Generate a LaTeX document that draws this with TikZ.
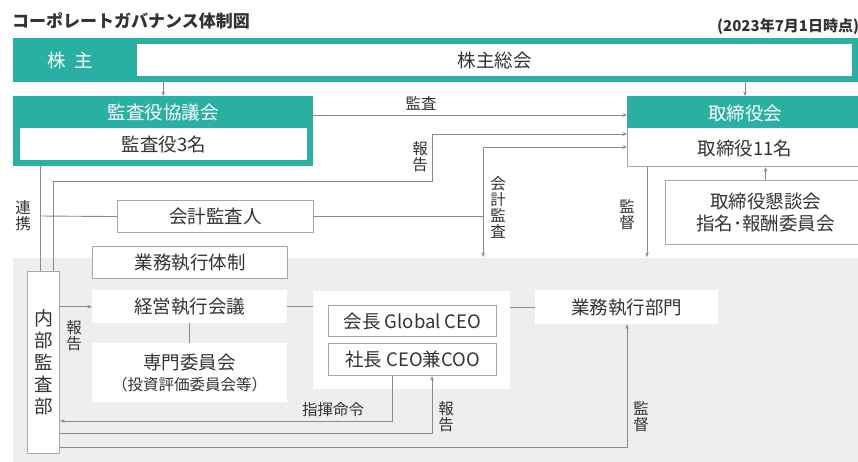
\documentclass[tikz,border=0pt]{standalone}
\usepackage{fontspec}
\setmainfont{Noto Sans CJK JP}
\usetikzlibrary{arrows.meta}
\definecolor{tealc}{HTML}{2AAFA3}
\definecolor{bgg}{HTML}{EEEEEE}
\definecolor{brd}{HTML}{A8A8A8}
\definecolor{lnc}{HTML}{8A8A8A}
\definecolor{txt}{HTML}{333333}
\newcommand\bigf{\fontsize{18.5}{22}\selectfont}
\newcommand\labf{\fontsize{15.5}{16}\selectfont}
\tikzset{
  plain/.style={inner sep=0pt, anchor=north west, text=txt, font=\bigf},
  box/.style={plain, draw=brd, line width=1.1pt, fill=white},
  wbox/.style={plain, fill=white},
  tbox/.style={plain, fill=tealc, text=white},
  ln/.style={draw=lnc, line width=0.9pt},
  arr/.style={ln, -{Stealth[length=4.5pt,width=3.6pt]}},
  lab/.style={inner sep=0pt, text=txt, font=\labf, align=center},
}
\begin{document}
\begin{tikzpicture}[x=1pt,y=-1pt]
\useasboundingbox (0,0) rectangle (858,461);
\fill[white] (0,0) rectangle (858,461);
\fill[bgg] (13,258) rectangle (860,463);

% title and date
\node[inner sep=0pt, anchor=west, text=txt, font=\fontsize{17}{18}\selectfont\bfseries] (title) at (12,21) {コーポレートガバナンス体制図};
\node[inner sep=0pt, anchor=west, text=txt, font=\fontsize{15}{16}\selectfont\bfseries] (date) at (717,27) {(2023年7月1日時点)};

% shareholders bar
\node[tbox, minimum width=850pt, minimum height=44pt] (bar) at (13,38) {};
\node[wbox, minimum width=715pt, minimum height=32pt] (soukai) at (137,44) {株主総会};
\node[inner sep=0pt, text=white, font=\bigf] (kabu) at (70,60) {株\hspace{0.45em}主};

% audit board
\node[tbox, minimum width=300pt, minimum height=70pt] (kansa) at (13,96) {};
\node[inner sep=0pt, text=white, font=\bigf] (kansahead) at (163,113) {監査役協議会};
\node[wbox, minimum width=287pt, minimum height=32pt] (kansa3) at (20,128) {監査役3名};

% board of directors
\node[box, minimum width=240pt, minimum height=70pt] (tori) at (627,96) {};
\node[tbox, minimum width=240pt, minimum height=32pt] (torihead) at (627,96) {};
\node[inner sep=0pt, text=white, font=\bigf] (toritxt) at (745,113) {取締役会};
\node[inner sep=0pt, text=txt, font=\bigf] (tori11) at (745,148) {取締役11名};

% round-table
\node[box, minimum width=200pt, minimum height=64pt, align=center] (kondan) at (665,180) {\fontsize{18.5}{27}\selectfont 取締役懇談会\\指名･報酬委員会};

% accounting auditor
\node[box, minimum width=196pt, minimum height=32pt] (kaikei) at (117,200) {会計監査人};

% execution
\node[box, minimum width=195pt, minimum height=32pt] (taisei) at (92,246) {業務執行体制};
\node[box, minimum width=32pt, minimum height=182pt, align=center] (naibu) at (27,271) {\fontsize{19}{18.6}\selectfont 内\\部\\監\\査\\部};
\node[wbox, minimum width=195pt, minimum height=33pt] (keiei) at (92,290) {経営執行会議};
\node[wbox, minimum width=195pt, minimum height=59pt, align=center] (senmon) at (92,343) {専門委員会\\[-1pt]{\fontsize{15.5}{18}\selectfont （投資評価委員会等）}};
\node[wbox, minimum width=197pt, minimum height=98pt] (ceobox) at (313,291) {};
\node[box, minimum width=168pt, minimum height=31pt] (kaicho) at (328,305) {会長 Global CEO};
\node[box, minimum width=168pt, minimum height=32pt] (shacho) at (328,343) {社長 CEO兼COO};
\node[wbox, minimum width=183pt, minimum height=34pt] (bumon) at (535,290) {業務執行部門};

% coordinates
\coordinate (k1) at (313,115);
\coordinate (r1) at (53,181);
\coordinate (r2) at (432,134);
\coordinate (l1) at (40,216);
\coordinate (a1) at (483,147);
\coordinate (a2) at (483,257);
\coordinate (s1) at (647,257);
\coordinate (m1) at (392,421);
\coordinate (h1) at (432,433);
\coordinate (g1) at (627,447);

% connectors
\draw[arr] (kansa.north |- bar.south) -- (kansa.north);
\draw[arr] (toritxt |- bar.south) -- (toritxt |- tori.north);
\draw[arr] (k1) -- (k1 -| tori.west);
\draw[arr] (naibu.north -| r1) -- (r1) -| (r2) -- (r2 -| tori.west);
\draw[ln] (kansa.south -| l1) -- (naibu.north -| l1);
\draw[ln] (l1) -- (kaikei.west);
\draw[ln] (kaikei.east) -- (kaikei.east -| a1);
\draw[arr] (a1) -- (a1 -| tori.west);
\draw[arr] (a1) -- (a2);
\draw[arr] (tori.south -| s1) -- (s1);
\draw[arr] (kondan.north) -- (kondan.north |- tori.south);
\draw[arr] (naibu.east |- keiei.west) -- (keiei.west);
\draw[ln] (keiei.south) -- (senmon.north);
\draw[ln] (keiei.east) -- (keiei.east -| ceobox.west);
\draw[ln] (ceobox.east |- bumon.west) -- (bumon.west);
\draw[arr] (shacho.south -| m1) -- (m1) -- (m1 -| naibu.east);
\draw[arr] (naibu.east |- h1) -- (h1) -- (h1 |- shacho.south);
\draw[arr] (naibu.east |- g1) -- (g1) -- (g1 |- bumon.south);

% labels
\node[lab] (lkansa) at (421,103) {監査};
\node[lab] (lhoukoku1) at (420,157) {報\\告};
\node[lab] (lkaikei) at (498,207) {会\\計\\監\\査};
\node[lab] (lkantoku1) at (627,215) {監\\督};
\node[lab] (lrenkei) at (23,216) {連\\携};
\node[lab] (lhoukoku2) at (74,336) {報\\告};
\node[lab] (lshiki) at (333,410) {指揮命令};
\node[lab] (lhoukoku3) at (446,417) {報\\告};
\node[lab] (lkantoku2) at (641,417) {監\\督};
\end{tikzpicture}
\end{document}
